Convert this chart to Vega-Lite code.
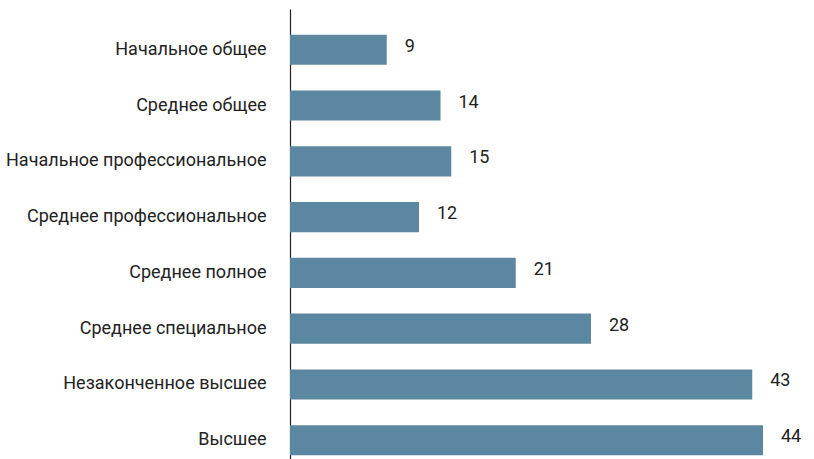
{
  "$schema": "https://vega.github.io/schema/vega-lite/v6.json",
  "autosize": "none",
  "padding": {"left": 290, "top": 9, "right": 0, "bottom": 0},
  "width": 516,
  "height": 472,
  "background": "white",
  "config": {"view": {"stroke": null}, "font": "Roboto"},
  "data": {"values": [
    {"level": "Начальное общее", "value": 9},
    {"level": "Среднее общее", "value": 14},
    {"level": "Начальное профессиональное", "value": 15},
    {"level": "Среднее профессиональное", "value": 12},
    {"level": "Среднее полное", "value": 21},
    {"level": "Среднее специальное", "value": 28},
    {"level": "Незаконченное высшее", "value": 43},
    {"level": "Высшее", "value": 44}
  ]},
  "encoding": {
    "y": {"field": "level", "type": "nominal", "sort": null,
      "scale": {"paddingInner": 0.46, "paddingOuter": 0.46},
      "axis": {"title": null, "ticks": false, "domain": true, "domainColor": "#222", "domainWidth": 1.2,
        "labelFont": "Roboto", "labelFontSize": 18, "labelColor": "#222", "labelPadding": 24, "labelLimit": 300}},
    "x": {"field": "value", "type": "quantitative", "scale": {"domain": [0, 48]}, "axis": null}
  },
  "layer": [
    {"mark": {"type": "bar", "color": "#5b87a0"}},
    {"mark": {"type": "text", "align": "left", "baseline": "middle", "dx": 18, "dy": -3, "fontSize": 18, "font": "Roboto", "color": "#222"},
     "encoding": {"text": {"field": "value", "type": "quantitative"}}}
  ]
}
